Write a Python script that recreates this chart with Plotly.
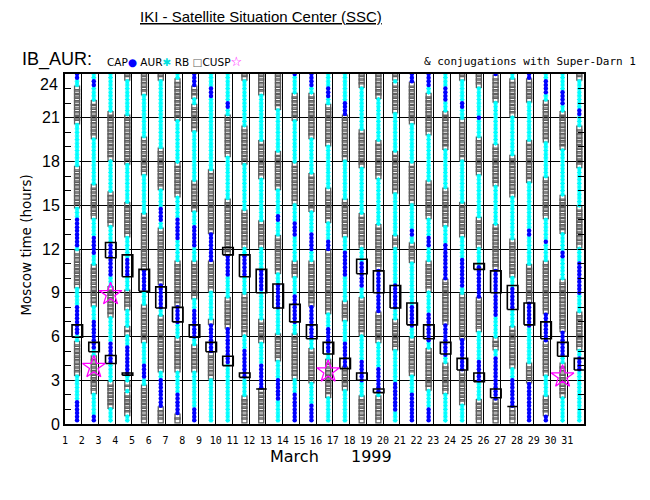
import numpy as np
import plotly.graph_objects as go

# --- data --------------------------------------------------------------------
# each day: runs from top to bottom, (start hour, class); a run lasts down to
# the start of the next one.  C = CAP, A = AUR, R = RB
day01 = [(24, 'C'), (23.5, 'A'), (23.2, 'R'), (20.5, 'A'), (17.6, 'R'), (14.9, 'A'), (14.0, 'C'), (12.2, 'A'),
         (11.8, 'R'), (9.4, 'A'), (8.1, 'C'), (6.0, 'A'), (5.7, 'R'), (3.3, 'A'), (1.7, 'C')]
day02 = [(24, 'A'), (23.5, 'C'), (23.0, 'A'), (22.1, 'R'), (19.5, 'A'), (16.4, 'R'), (14.2, 'A'), (12.9, 'C'),
         (11.5, 'A'), (10.9, 'R'), (8.2, 'A'), (7.2, 'C'), (5.0, 'A'), (4.6, 'R'), (2.1, 'A'), (0.6, 'C')]
day03 = [(24, 'A'), (21.4, 'R'), (18.0, 'A'), (15.8, 'R'), (13.5, 'A'), (12.3, 'C'), (10.0, 'A'), (9.3, 'R'),
         (7.4, 'A'), (5.7, 'C'), (4.1, 'A'), (2.8, 'R'), (1.0, 'A')]
day04 = [(24, 'R'), (23.5, 'A'), (21.0, 'R'), (17.9, 'A'), (15.0, 'R'), (12.9, 'A'), (11.4, 'C'), (10.1, 'A'),
         (9.0, 'R'), (7.9, 'A'), (6.6, 'R'), (6.0, 'A'), (5.4, 'C'), (3.4, 'A'), (2.9, 'R'), (2.4, 'A'),
         (2.1, 'R'), (0.5, 'A')]
day05 = [(24, 'R'), (22.7, 'A'), (19.7, 'R'), (17.0, 'A'), (14.4, 'R'), (10.6, 'C'), (9.1, 'A'), (8.0, 'R'),
         (5.6, 'A'), (4.0, 'C'), (3.0, 'A'), (2.5, 'R')]
day06 = [(24, 'R'), (23.6, 'A'), (18.8, 'R'), (16.1, 'A'), (14.8, 'C'), (13.8, 'A'), (13.4, 'R'), (9.5, 'C'),
         (7.9, 'A'), (7.3, 'R'), (3.6, 'A'), (3.2, 'C'), (1.1, 'R')]
day07 = [(24, 'A'), (23.7, 'R'), (20.8, 'A'), (17.9, 'R'), (15.7, 'A'), (14.2, 'C'), (12.6, 'A'), (11.0, 'R'),
         (8.2, 'C'), (6.8, 'A'), (5.9, 'R'), (3.6, 'A'), (2.2, 'C'), (0.6, 'R')]
day08 = [(24, 'C'), (23.2, 'R'), (22.3, 'A'), (21.9, 'R'), (20.1, 'A'), (16.7, 'R'), (14.7, 'A'), (13.5, 'C'),
         (12.1, 'A'), (11.2, 'R'), (8.5, 'A'), (7.8, 'C'), (5.9, 'A'), (5.4, 'R'), (3.6, 'A'), (1.0, 'C')]
day09 = [(24, 'A'), (23.1, 'C'), (22.4, 'A'), (17.4, 'R'), (13.0, 'C'), (11.1, 'R'), (9.0, 'A'), (7.2, 'R'),
         (6.8, 'C'), (4.9, 'R'), (3.0, 'A')]
day10 = [(24, 'A'), (22.0, 'C'), (21.7, 'A'), (21.0, 'R'), (18.4, 'A'), (15.3, 'R'), (11.7, 'C'), (10.0, 'A'),
         (8.5, 'R'), (6.6, 'C'), (4.1, 'A')]
day11 = [(24, 'R'), (23.5, 'A'), (20.4, 'R'), (17.8, 'A'), (14.7, 'R'), (12.2, 'A'), (11.6, 'C'), (10.0, 'A'),
         (8.9, 'R'), (6.1, 'A'), (5.1, 'C'), (3.1, 'A'), (1.8, 'R')]
day12 = [(24, 'R'), (22.5, 'A'), (19.4, 'R'), (16.8, 'A'), (13.8, 'R'), (12.0, 'A'), (10.6, 'C'), (9.0, 'A'),
         (7.0, 'R'), (5.5, 'A'), (4.2, 'C'), (2.3, 'R')]
day13 = [(24, 'R'), (21.5, 'A'), (18.7, 'R'), (16.1, 'A'), (14.4, 'C'), (13.9, 'A'), (12.8, 'R'), (10.3, 'A'),
         (9.5, 'C'), (7.8, 'A'), (6.2, 'R'), (4.4, 'A'), (3.2, 'C'), (1.5, 'A')]
day14 = [(24, 'C'), (23.8, 'A'), (22.5, 'R'), (20.9, 'A'), (17.8, 'R'), (15.2, 'A'), (13.8, 'C'), (12.8, 'A'),
         (11.0, 'R'), (10.0, 'A'), (8.9, 'C'), (6.9, 'A'), (6.0, 'R'), (3.2, 'A'), (2.2, 'C')]
day15 = [(24, 'C'), (23.1, 'A'), (22.5, 'R'), (19.7, 'A'), (17.1, 'R'), (14.5, 'A'), (13.1, 'C'), (11.8, 'A'),
         (11.2, 'R'), (8.0, 'C'), (5.8, 'A'), (5.2, 'R'), (2.8, 'A'), (1.3, 'C')]
day16 = [(24, 'A'), (23.1, 'C'), (22.3, 'A'), (21.8, 'R'), (19.2, 'A'), (16.1, 'R'), (13.8, 'A'), (12.5, 'C'),
         (11.9, 'R'), (7.6, 'A'), (6.7, 'C'), (4.8, 'A'), (4.4, 'R'), (1.9, 'A')]
day17 = [(24, 'A'), (22.1, 'C'), (21.2, 'R'), (18.1, 'A'), (15.4, 'R'), (12.8, 'A'), (11.8, 'C'), (10.0, 'A'),
         (8.4, 'R'), (7.2, 'A'), (5.6, 'C'), (3.8, 'R'), (2.4, 'A')]
day18 = [(24, 'R'), (23.0, 'A'), (20.1, 'R'), (17.5, 'A'), (14.4, 'R'), (12.0, 'A'), (11.1, 'C'), (9.3, 'A'),
         (8.6, 'R'), (6.1, 'A'), (4.4, 'C'), (2.95, 'A'), (1.8, 'R')]
day19 = [(24, 'R'), (22.3, 'A'), (19.4, 'R'), (16.8, 'A'), (13.7, 'R'), (10.5, 'C'), (7.7, 'R'), (5.5, 'A'),
         (3.8, 'C'), (2.2, 'A'), (1.8, 'R')]
day20 = [(24, 'R'), (23.6, 'A'), (23.3, 'R'), (21.4, 'A'), (18.5, 'R'), (15.8, 'A'), (12.8, 'R'), (12.0, 'A'),
         (9.5, 'C'), (7.9, 'A'), (7.2, 'R'), (5.0, 'A'), (2.95, 'C'), (0.9, 'A')]
day21 = [(24, 'C'), (23.4, 'R'), (20.5, 'A'), (17.8, 'R'), (15.1, 'A'), (13.4, 'C'), (12.8, 'A'), (12.3, 'R'),
         (11.2, 'A'), (8.2, 'C'), (6.7, 'A'), (5.9, 'R'), (3.4, 'A'), (2.2, 'C')]
day22 = [(24, 'C'), (23.0, 'A'), (22.5, 'R'), (19.8, 'A'), (16.7, 'R'), (14.2, 'A'), (12.8, 'C'), (12.2, 'A'),
         (11.2, 'R'), (9.0, 'A'), (7.5, 'C'), (5.6, 'A'), (5.1, 'R'), (2.4, 'A'), (1.1, 'C')]
day23 = [(24, 'A'), (23.0, 'C'), (22.1, 'A'), (21.4, 'R'), (18.8, 'A'), (16.2, 'R'), (13.5, 'A'), (12.3, 'C'),
         (9.8, 'R'), (6.8, 'C'), (4.7, 'A'), (4.0, 'R'), (2.0, 'A')]
day24 = [(24, 'R'), (23.6, 'A'), (22.0, 'C'), (21.5, 'A'), (20.9, 'R'), (18.1, 'A'), (15.2, 'R'), (12.8, 'A'),
         (11.4, 'C'), (9.3, 'A'), (8.8, 'R'), (5.8, 'C'), (3.6, 'R'), (1.3, 'A')]
day25 = [(24, 'R'), (23.1, 'A'), (21.0, 'C'), (20.8, 'A'), (19.7, 'R'), (17.1, 'A'), (14.2, 'R'), (12.0, 'A'),
         (10.8, 'C'), (8.6, 'R'), (6.4, 'A'), (4.3, 'C'), (2.9, 'A'), (1.7, 'R')]
day26 = [(24, 'C'), (23.8, 'R'), (22.0, 'A'), (19.1, 'R'), (16.4, 'A'), (13.5, 'R'), (10.5, 'C'), (7.3, 'A'),
         (5.9, 'R'), (5.0, 'A'), (4.5, 'C'), (1.7, 'R')]
day27 = [(24, 'A'), (23.7, 'R'), (21.1, 'A'), (18.4, 'R'), (15.5, 'A'), (12.6, 'R'), (10.2, 'A'), (9.4, 'C'),
         (7.8, 'A'), (6.5, 'R'), (3.8, 'A'), (3.0, 'C'), (1.2, 'R')]
day28 = [(24, 'C'), (23.5, 'R'), (22.1, 'A'), (19.3, 'R'), (16.6, 'A'), (13.3, 'C'), (12.9, 'A'), (10.8, 'R'),
         (8.3, 'C'), (6.7, 'A'), (4.0, 'R'), (2.9, 'C')]
day29 = [(24, 'A'), (23.7, 'C'), (22.5, 'A'), (22.1, 'R'), (19.4, 'A'), (16.8, 'R'), (14.2, 'A'), (12.5, 'C'),
         (12.3, 'A'), (11.0, 'R'), (7.5, 'C'), (5.7, 'R'), (3.3, 'A'), (1.9, 'R'), (0.5, 'C')]
day30 = [(24, 'A'), (22.8, 'C'), (21.8, 'A'), (21.3, 'R'), (18.8, 'A'), (15.7, 'R'), (13.0, 'A'), (11.8, 'C'),
         (11.3, 'A'), (9.8, 'R'), (6.4, 'C'), (4.7, 'A'), (4.2, 'R'), (1.9, 'A')]
day31 = [(24, 'R'), (23.7, 'A'), (21.7, 'C'), (21.1, 'A'), (20.3, 'R'), (17.6, 'A'), (14.8, 'R'), (12.2, 'A'),
         (11.0, 'C'), (8.8, 'A'), (7.5, 'R'), (5.2, 'A'), (4.5, 'C'), (3.6, 'A')]

day_runs = [day01, day02, day03, day04, day05, day06, day07, day08, day09, day10, day11, day12, day13, day14,
            day15, day16, day17, day18, day19, day20, day21, day22, day23, day24, day25, day26, day27, day28,
            day29, day30, day31]
days = list(range(1, 32))

# CUSP events
cusp_day = [2, 3, 16, 30]
cusp_hour = [3.9, 8.9, 3.6, 3.25]

# conjugations with Super-Darn 1: day, from hour, to hour
conj_day = [1, 2, 3, 3, 4, 4, 5, 6, 7, 8, 9, 10, 10, 11, 11, 12, 12, 13, 14, 15, 16, 17, 18, 18, 19, 19, 20,
            21, 22, 23, 24, 25, 25, 26, 26, 27, 27, 28, 29, 30, 31]
conj_lo = [5.95, 4.95, 11.4, 4.15, 10.1, 3.35, 9.1, 7.95, 7.0, 5.95, 4.95, 11.6, 4.0, 10.1, 3.2, 9.0, 2.4,
           7.95, 7.0, 5.85, 4.8, 3.8, 10.3, 3.0, 9.0, 2.15, 7.95, 6.8, 5.85, 4.8, 3.7, 10.6, 2.9, 9.0, 1.8,
           7.85, 1.2, 6.8, 5.85, 4.65, 3.7]
conj_hi = [6.8, 5.6, 12.45, 4.7, 11.6, 3.5, 10.6, 9.4, 8.0, 6.8, 5.6, 12.1, 4.65, 11.6, 3.5, 10.6, 2.4,
           9.6, 8.2, 6.8, 5.6, 4.5, 11.3, 3.5, 10.5, 2.4, 9.5, 8.3, 6.8, 5.6, 4.5, 11.0, 3.5, 10.5, 2.4,
           9.5, 1.2, 8.3, 7.0, 5.6, 4.5]

y_ticks = [0, 3, 6, 9, 12, 15, 18, 21]
slot_hours = np.arange(1, 97) * 0.25   # one marker per 15 minutes

# --- expand the runs into markers -------------------------------------------
COL_OFF = 0.72   # markers sit near the right end of each day cell
pts = {'C': ([], []), 'A': ([], []), 'R': ([], [])}
for d, runs in zip(days, day_runs):
    for h in slot_hours:
        code = None
        for top, c in runs:
            if h <= top + 1e-9:
                code = c
        if code:
            pts[code][0].append(d + COL_OFF)
            pts[code][1].append(h)

FONT = "Liberation Sans"
WIDE = "DejaVu Sans"
fig = go.Figure()

fig.add_trace(go.Scatter(
    x=pts['R'][0], y=pts['R'][1], mode='markers', name='RB',
    marker=dict(symbol='square-open', size=5, color='#5f5f5f', line=dict(width=1.3, color='#5f5f5f'))
))
fig.add_trace(go.Scatter(
    x=pts['A'][0], y=pts['A'][1], mode='markers', name='AUR',
    marker=dict(symbol='asterisk-open', size=4, color='#00ffff', line=dict(width=1.1, color='#00ffff'))
))
fig.add_trace(go.Scatter(
    x=pts['C'][0], y=pts['C'][1], mode='markers', name='CAP',
    marker=dict(symbol='circle', size=4.5, color='#0000ff', line=dict(width=0))
))

# conjugation boxes
bx, by = [], []
for d, lo, hi in zip(conj_day, conj_lo, conj_hi):
    x0, x1 = d + 0.42, d + 1.05
    bx += [x0, x1, x1, x0, x0, None]
    by += [lo, lo, hi, hi, lo, None]
fig.add_trace(go.Scatter(x=bx, y=by, mode='lines', line=dict(color='black', width=1.6),
                         hoverinfo='skip', name='conj'))

fig.add_trace(go.Scatter(
    x=[d + COL_OFF for d in cusp_day], y=cusp_hour, mode='markers', name='CUSP',
    marker=dict(symbol='star-open', size=17, color='#ff00ff', line=dict(width=1.3, color='#ff00ff'))
))

fig.update_layout(
    width=650, height=500,
    margin=dict(l=65, r=66, t=74, b=76),
    paper_bgcolor='white', plot_bgcolor='white',
    showlegend=False,
    font=dict(family=FONT, color='black'),
    xaxis=dict(
        range=[1, 32], tickvals=days, ticktext=[str(d) for d in days],
        showgrid=True, gridcolor='black', gridwidth=1.3,
        showline=True, linecolor='black', linewidth=2, mirror=True,
        ticks='', tickfont=dict(size=10, family="DejaVu Sans Mono"), ticklabelstandoff=6,
        zeroline=False,
    ),
    yaxis=dict(
        range=[0, 24], tickvals=y_ticks, ticktext=[str(v) for v in y_ticks],
        showgrid=True, gridcolor='black', gridwidth=1.3,
        showline=True, linecolor='black', linewidth=2, mirror='allticks',
        ticks='inside', ticklen=6, tickcolor='black',
        minor=dict(dtick=1, ticks='inside', ticklen=6, tickcolor='black', showgrid=False),
        tickfont=dict(size=16), zeroline=False,
    ),
)

ann = dict(showarrow=False, xref='paper', yref='paper')
fig.add_annotation(text="<u>IKI - Satellite Situation Center (SSC)</u>", x=0.378, y=1.165,
                   font=dict(size=15), xanchor='center', yanchor='middle', **ann)
fig.add_annotation(text="IB_AUR:", x=-0.087, y=1.04, font=dict(size=18), xanchor='left', yanchor='middle', **ann)
fig.add_annotation(
    text='CAP<span style="color:#0000ff">●</span> AUR<span style="color:#00e0e0">✱</span> RB '
         '<span style="color:#5f5f5f">□</span>CUSP<span style="color:#ff00ff;font-size:13px">☆</span>',
    x=0.078, y=1.035, font=dict(size=10.5, family=WIDE), xanchor='left', yanchor='middle', **ann)
fig.add_annotation(text="& conjugations with Super-Darn 1", x=1.105, y=1.035,
                   font=dict(size=11, family="DejaVu Sans Mono"), xanchor='right', yanchor='middle', **ann)
fig.add_annotation(text="Moscow time (hours)", x=-0.077, y=0.51, textangle=-90,
                   font=dict(size=13.5, family=WIDE), xanchor='center', yanchor='middle', **ann)
# top label sits just below the upper frame in the original
fig.add_annotation(text="24", x=-0.01, xref='paper', y=23.25, yref='y', showarrow=False,
                   font=dict(size=16), xanchor='right', yanchor='middle')
fig.add_annotation(text="March", x=0.443, y=-0.093, font=dict(size=16, family=WIDE),
                   xanchor='center', yanchor='middle', **ann)
fig.add_annotation(text="1999", x=0.59, y=-0.093, font=dict(size=16, family=WIDE),
                   xanchor='center', yanchor='middle', **ann)

fig.write_html("out.html", config={'displayModeBar': False},
               post_script="document.body.style.margin='0px';")
